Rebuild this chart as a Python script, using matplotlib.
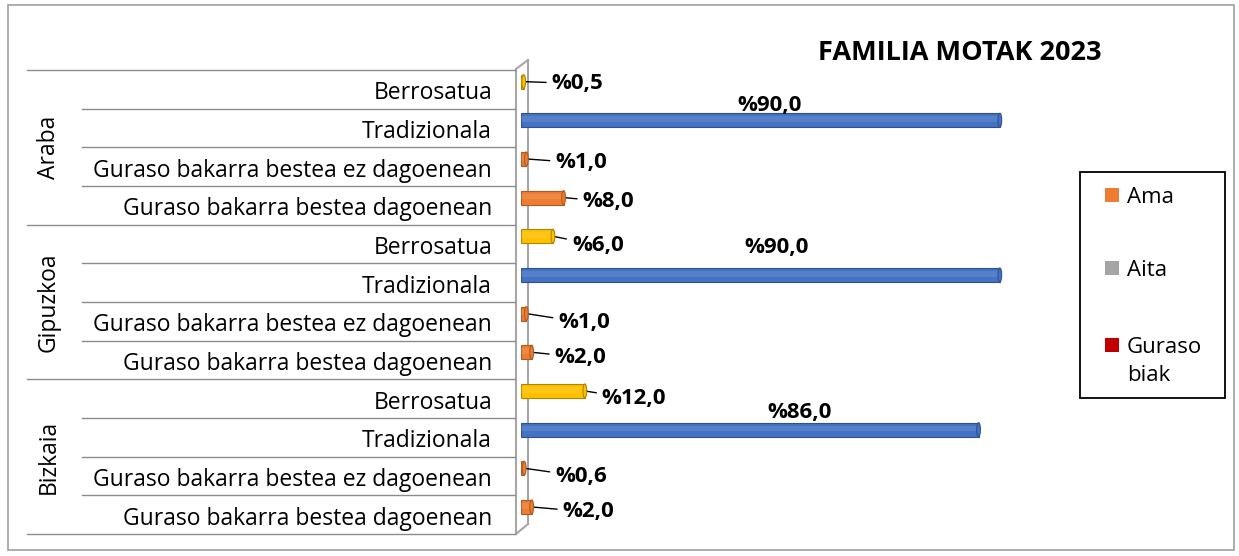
import matplotlib.pyplot as plt
import numpy as np
from matplotlib.lines import Line2D
from matplotlib.patches import Ellipse, Rectangle

plt.rcParams["font.family"] = ["Open Sans", "DejaVu Sans"]

# data, top row first
regions = ["Araba", "Gipuzkoa", "Bizkaia"]
types = [
    "Berrosatua",
    "Tradizionala",
    "Guraso bakarra bestea ez dagoenean",
    "Guraso bakarra bestea dagoenean",
]
values = [
    [0.5, 90.0, 1.0, 8.0],
    [6.0, 90.0, 1.0, 2.0],
    [12.0, 86.0, 0.6, 2.0],
]
legend_labels = ["Ama", "Aita", "Guraso\nbiak"]
legend_colors = ["#ED7D31", "#A5A5A5", "#C00000"]
type_colors = ["#FFC000", "#4472C4", "#ED7D31", "#ED7D31"]
type_edges = ["#B08600", "#2F528F", "#AE5A21", "#AE5A21"]

# label offsets (pixels) from the bar end, per row
lab_dx = [28, -230, 29, 19, 19, -223, 32, 23, 17, -179, 31, 31]
lab_dy = [-2, 15, -4, -4, -9, 27, -9, -5, -8, 17, -8, -5]

W, H = 1239, 556
fig = plt.figure(figsize=(W / 100, H / 100), dpi=100)


def fx(px):
    return px / W


def fy(py):
    return 1 - py / H


top_px, bot_px = 70, 534
x0_px, x100_px = 521, 1053
ax = fig.add_axes([fx(x0_px), fy(bot_px), fx(x100_px - x0_px), (bot_px - top_px) / H])
lax = fig.add_axes([fx(27), fy(bot_px), fx(x0_px - 6 - 27), (bot_px - top_px) / H], sharey=ax)

n = len(regions) * len(types)
rows = np.arange(n)
vals = np.array(values).ravel()
cols = type_colors * len(regions)
edges = type_edges * len(regions)
bar_y = rows - 0.2
bh = 0.36

# axis wall, drawn first so the bars sit over it
wall = dict(color="#A6A6A6", lw=1.5, transform=fig.transFigure, clip_on=False, zorder=0.5)
for xs, ys in [((516, 516), (69, 534)), ((528, 528), (60, 524)),
               ((516, 528), (69, 60)), ((516, 528), (534, 524))]:
    ax.add_line(Line2D([fx(p) for p in xs], [fy(p) for p in ys], **wall))

ax.barh(bar_y, vals, height=bh, color=cols, edgecolor=edges, linewidth=0.8, zorder=2)
# soft highlight for a cylinder look
ax.barh(bar_y - bh * 0.08, vals, height=bh * 0.4, color="white", alpha=0.1,
        linewidth=0, zorder=3)
for y, v, c, e in zip(bar_y, vals, cols, edges):
    ax.add_patch(Ellipse((v, y), 0.7, bh, facecolor=c, edgecolor=e, linewidth=0.8, zorder=4))

for i, (y, v) in enumerate(zip(bar_y, vals)):
    txt = "%" + f"{v:.1f}".replace(".", ",")
    if lab_dx[i] > 0:
        ax.annotate(txt, xy=(v, y), xytext=(lab_dx[i], lab_dy[i]), textcoords="offset pixels",
                    ha="left", va="center", fontsize=16, fontweight="bold",
                    arrowprops=dict(arrowstyle="-", color="black", lw=1,
                                    shrinkA=2, shrinkB=0))
    else:
        ax.annotate(txt, xy=(v, y), xytext=(lab_dx[i], lab_dy[i]), textcoords="offset pixels",
                    ha="center", va="center", fontsize=16, fontweight="bold")

ax.set_xlim(0, 100)
ax.set_ylim(n - 0.5, -0.5)
ax.axis("off")

# category axis with two levels
lax.set_xlim(0, 1)
lax.axis("off")
short_x = (82 - 27) / (x0_px - 6 - 27)
for b in np.arange(-0.5, n, 1):
    if (b + 0.5) % len(types) == 0:
        lax.plot([0, 1], [b, b], color="#8C8C8C", lw=1, clip_on=False)
    else:
        lax.plot([short_x, 1], [b, b], color="#8C8C8C", lw=1, clip_on=False)
for i in rows:
    lax.text(0.953, i + 0.1, types[i % len(types)], ha="right", va="center", fontsize=16.5)
for g, r in enumerate(regions):
    lax.text(0.045, g * len(types) + 1.5, r, ha="center", va="center", rotation=90,
             fontsize=16.5)

fig.text(fx(960), fy(53), "FAMILIA MOTAK 2023", ha="center", va="center",
         fontsize=19.5, fontweight="bold")

# legend box
fig.add_artist(Rectangle((fx(1080), fy(398)), fx(145), (398 - 172) / H, fill=False,
                         edgecolor="black", lw=1.3, transform=fig.transFigure))
for k, (lab, c) in enumerate(zip(legend_labels, legend_colors)):
    cy = [195, 268, 345][k]
    fig.add_artist(Rectangle((fx(1105), fy(cy + 7)), fx(14), 14 / H, facecolor=c,
                             edgecolor="none", transform=fig.transFigure))
    fig.text(fx(1127), fy(cy - 8), lab, ha="left", va="top", fontsize=16,
             linespacing=1.45)

fig.add_artist(Rectangle((fx(8), fy(550)), fx(1226), (550 - 5) / H, fill=False,
                         edgecolor="#A0A0A0", lw=1.2, transform=fig.transFigure))

fig.savefig("out.png", dpi=100)
